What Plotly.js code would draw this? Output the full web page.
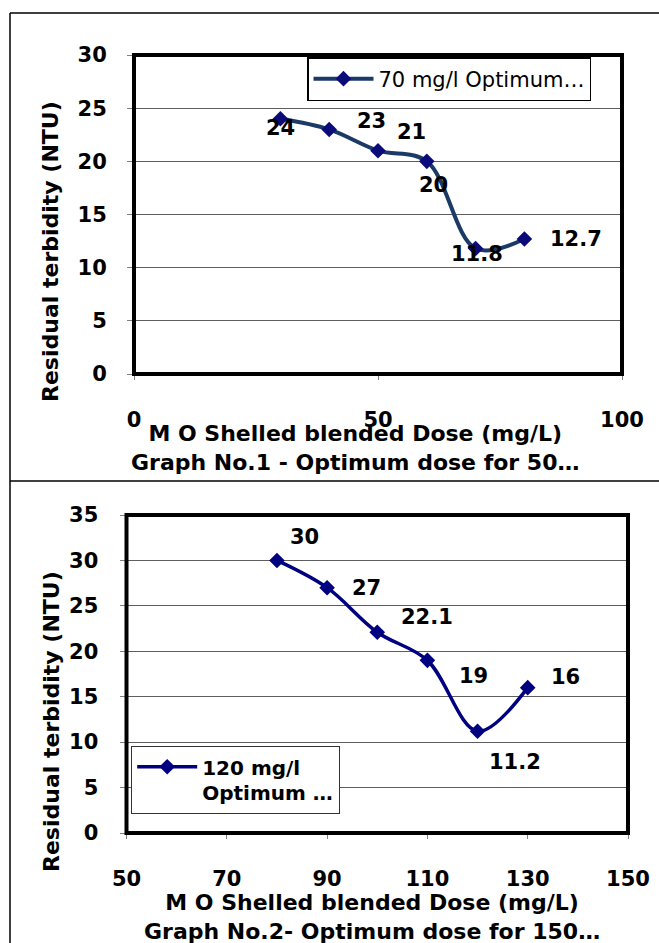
<!DOCTYPE html>
<html>
<head>
<meta charset="utf-8">
<script src="https://cdn.plot.ly/plotly-3.0.1.min.js"></script>
<style>
  html, body { margin: 0; padding: 0; background: #fff; }
  #chart { width: 659px; height: 943px; }
</style>
</head>
<body>
<div id="chart"></div>
<script>
// ---- data ----
const topDose = [30, 40, 50, 60, 70, 80];
const topTurbidity = [24, 23, 21, 20, 11.8, 12.7];
const topLabels = ['24', '23', '21', '20', '11.8', '12.7'];
const bottomDose = [80, 90, 100, 110, 120, 130];
const bottomTurbidity = [30, 27, 22.1, 19, 11.2, 16];
const bottomLabels = ['30', '27', '22.1', '19', '11.2', '16'];
const topSeriesName = '70 mg/l Optimum…';
const bottomSeriesName = '120 mg/l<br>Optimum …';
const yTitleText = 'Residual terbidity (NTU)';
const xTitleText = 'M O Shelled blended Dose (mg/L)';
const topCaption = 'Graph No.1 - Optimum dose for 50…';
const bottomCaption = 'Graph No.2- Optimum dose for 150…';

// ---- styling / label offsets (px: right, down) ----
const topLabelShift = [[0, 9], [42, -8], [33, -19], [7, 24], [1, 5], [52, 0]];
const bottomLabelShift = [[28, -23], [39, 0], [50, -15], [46, 16], [37, 31], [38, -11]];

const W = 659, H = 943;
const px = v => v / W;
const py = v => 1 - v / H;
const BOLD = 'DejaVu Sans, Arial, sans-serif';

const traces = [
  {
    x: topDose, y: topTurbidity, type: 'scatter', mode: 'lines+markers',
    name: topSeriesName, xaxis: 'x', yaxis: 'y', legend: 'legend',
    line: { color: '#1B3A66', width: 4, shape: 'spline', smoothing: 1 },
    marker: { symbol: 'diamond', size: 12, color: '#0B0B7A' },
    hoverinfo: 'x+y'
  },
  {
    x: bottomDose, y: bottomTurbidity, type: 'scatter', mode: 'lines+markers',
    name: bottomSeriesName, xaxis: 'x2', yaxis: 'y2', legend: 'legend2',
    line: { color: '#000080', width: 3.5, shape: 'spline', smoothing: 1 },
    marker: { symbol: 'diamond', size: 12, color: '#000080' },
    hoverinfo: 'x+y'
  }
];

const tickFont = { family: BOLD, size: 21, color: '#000', weight: 'bold' };
const commonAxis = {
  showline: false, zeroline: false, ticks: 'outside', tickcolor: '#808080',
  tickwidth: 1, ticklen: 6, tickfont: tickFont, gridcolor: '#5e5e5e', gridwidth: 1,
  fixedrange: true
};

const annotations = [];
topDose.forEach((d, i) => {
  annotations.push({
    x: d, y: topTurbidity[i], xref: 'x', yref: 'y', text: topLabels[i],
    showarrow: false, xshift: topLabelShift[i][0], yshift: -topLabelShift[i][1],
    font: { family: BOLD, size: 21, color: '#000', weight: 'bold' }
  });
});
bottomDose.forEach((d, i) => {
  annotations.push({
    x: d, y: bottomTurbidity[i], xref: 'x2', yref: 'y2', text: bottomLabels[i],
    showarrow: false, xshift: bottomLabelShift[i][0], yshift: -bottomLabelShift[i][1],
    font: { family: BOLD, size: 21, color: '#000', weight: 'bold' }
  });
});
const titleFont = { family: BOLD, size: 22, color: '#000', weight: 'bold' };
annotations.push(
  { xref: 'paper', yref: 'paper', x: px(51), y: py(252), text: yTitleText, textangle: -90,
    showarrow: false, xanchor: 'center', yanchor: 'middle', font: titleFont },
  { xref: 'paper', yref: 'paper', x: px(51), y: py(722), text: yTitleText, textangle: -90,
    showarrow: false, xanchor: 'center', yanchor: 'middle', font: titleFont },
  { xref: 'paper', yref: 'paper', x: px(356), y: py(448), text: xTitleText + '<br>' + topCaption,
    showarrow: false, xanchor: 'center', yanchor: 'middle', font: titleFont },
  { xref: 'paper', yref: 'paper', x: px(372), y: py(917), text: xTitleText + '<br>' + bottomCaption,
    showarrow: false, xanchor: 'center', yanchor: 'middle', font: titleFont }
);

const shapes = [
  // plot frames
  { type: 'rect', xref: 'x domain', yref: 'y domain', x0: 0, x1: 1, y0: 0, y1: 1,
    line: { color: '#000', width: 4 }, layer: 'above' },
  { type: 'rect', xref: 'x2 domain', yref: 'y2 domain', x0: 0, x1: 1, y0: 0, y1: 1,
    line: { color: '#000', width: 4 }, layer: 'above' },
  // outer panel borders
  { type: 'line', xref: 'paper', yref: 'paper', x0: px(10), x1: 1, y0: py(13), y1: py(13),
    line: { color: '#000', width: 1.5 } },
  { type: 'line', xref: 'paper', yref: 'paper', x0: px(10), x1: px(10), y0: py(13), y1: 0,
    line: { color: '#000', width: 1.5 } },
  { type: 'line', xref: 'paper', yref: 'paper', x0: px(10), x1: 1, y0: py(481), y1: py(481),
    line: { color: '#000', width: 1.5 } }
];

const layout = {
  width: W, height: H,
  margin: { l: 0, r: 0, t: 0, b: 0 },
  paper_bgcolor: '#fff', plot_bgcolor: '#fff',
  font: { family: BOLD, color: '#000' },
  xaxis: Object.assign({}, commonAxis, {
    domain: [px(134), px(622)], anchor: 'y', range: [0, 100], tick0: 0, dtick: 50,
    ticklen: 5, ticklabelstandoff: 22, showgrid: false
  }),
  yaxis: Object.assign({}, commonAxis, {
    domain: [py(374), py(55)], anchor: 'x', range: [0, 30], tick0: 0, dtick: 5,
    ticklabelstandoff: 16
  }),
  xaxis2: Object.assign({}, commonAxis, {
    domain: [px(126.5), px(628)], anchor: 'y2', range: [50, 150], tick0: 50, dtick: 20,
    ticklen: 5, ticklabelstandoff: 22, showgrid: false
  }),
  yaxis2: Object.assign({}, commonAxis, {
    domain: [py(833), py(515)], anchor: 'x2', range: [0, 35], tick0: 0, dtick: 5,
    ticklabelstandoff: 17
  }),
  showlegend: true,
  legend: {
    x: px(307), y: py(57), xanchor: 'left', yanchor: 'top',
    bgcolor: '#fff', bordercolor: '#000', borderwidth: 1.5, itemwidth: 60,
    font: { family: 'DejaVu Sans, Arial, sans-serif', size: 21, color: '#000' }
  },
  legend2: {
    x: px(131), y: py(746), xanchor: 'left', yanchor: 'top', valign: 'top',
    bgcolor: '#fff', bordercolor: '#333', borderwidth: 1.2, itemwidth: 60,
    font: { family: BOLD, size: 20, color: '#000', weight: 'bold' }
  },
  annotations: annotations,
  shapes: shapes
};

Plotly.newPlot('chart', traces, layout, { displayModeBar: false, staticPlot: true });
</script>
</body>
</html>
